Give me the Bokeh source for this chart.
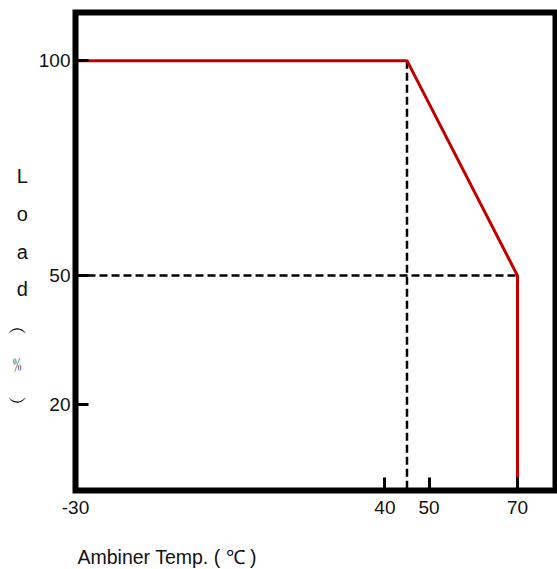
from bokeh.plotting import figure
from bokeh.models import Range1d, FixedTicker, Title
from bokeh.embed import file_html
from bokeh.resources import INLINE

# ---- data ----
curve_temp = [-30, 45, 70, 70]
curve_load = [100, 100, 50, 0]
vguide_temp = [45, 45]
vguide_load = [100, 0]
hguide_temp = [-30, 70]
hguide_load = [50, 50]
x_ticks = [-30, 40, 50, 70]
x_tick_labels = ["-30", "40", "50", "70"]
y_ticks = [20, 50, 100]
x_title = "Ambiner Temp. ( \u2103 )"
y_title_chars = ["L", "o", "a", "d", "\ufe35", "\ufe6a", "\ufe36"]

FONT = "Liberation Sans"

p = figure(width=557, height=569, output_backend="svg", toolbar_location=None,
           x_range=Range1d(-30, 78.6), y_range=Range1d(0, 111.2),
           min_border_left=75, min_border_right=2, min_border_top=12,
           min_border_bottom=79)
p.background_fill_color = "white"
p.border_fill_color = "white"
p.outline_line_color = "black"
p.outline_line_width = 6
p.outline_line_join = "miter"
p.xgrid.visible = False
p.ygrid.visible = False

for ax in (p.xaxis[0], p.yaxis[0]):
    ax.axis_line_color = None
    ax.major_tick_in = 13
    ax.major_tick_out = 0
    ax.major_tick_line_width = 3
    ax.major_tick_line_color = "black"
    ax.minor_tick_line_color = None
    ax.major_label_text_font = FONT
    ax.major_label_text_font_size = "19px"
    ax.major_label_text_color = "#111111"

p.xaxis.ticker = FixedTicker(ticks=x_ticks)
p.xaxis.major_label_overrides = dict(zip(x_ticks, x_tick_labels))
p.yaxis.ticker = FixedTicker(ticks=y_ticks)
p.xaxis.major_label_standoff = 10
p.yaxis.major_label_standoff = 5

p.yaxis.axis_label = "\n".join([" ", " "] + y_title_chars)
p.yaxis.axis_label_orientation = "horizontal"
p.yaxis.axis_label_text_font = FONT
p.yaxis.axis_label_text_font_size = "20px"
p.yaxis.axis_label_text_font_style = "normal"
p.yaxis.axis_label_text_color = "#111111"
p.yaxis.axis_label_text_line_height = 1.71
p.yaxis.axis_label_text_align = "center"
p.yaxis.axis_label_standoff = 8

p.line(hguide_temp, hguide_load, line_color="black", line_width=2.5, line_dash="8 4")
p.line(vguide_temp, vguide_load, line_color="black", line_width=2.5, line_dash="8 4")
p.line(curve_temp, curve_load, line_color="#C00000", line_width=3)

p.add_layout(Title(text=" \n" + x_title, align="left", offset=2, standoff=3,
                   vertical_align="bottom", text_line_height=1.2,
                   text_font=FONT, text_font_size="19.5px", text_font_style="normal",
                   text_color="#111111"), "below")

open("out.html", "w").write(file_html(p, INLINE))
